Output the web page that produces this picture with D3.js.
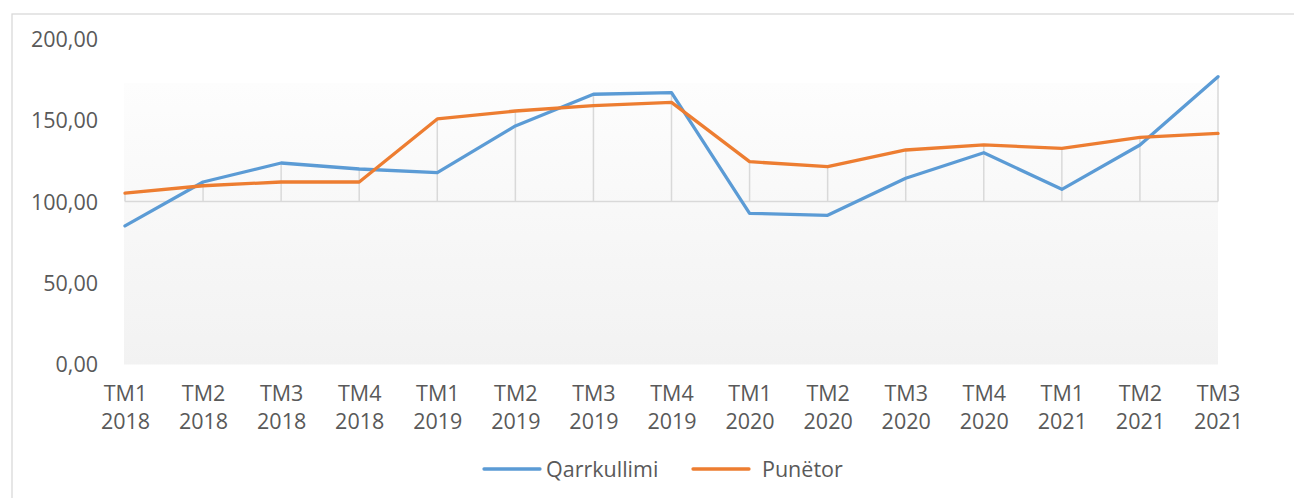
<!DOCTYPE html>
<html><head><meta charset="utf-8">
<script src="https://cdn.jsdelivr.net/npm/d3@7"></script>
<style>body{margin:0;background:#fff;} svg{display:block;}</style>
</head><body>
<svg id="c" width="1294" height="498"></svg>
<script>
const quarters = ["TM1","TM2","TM3","TM4","TM1","TM2","TM3","TM4","TM1","TM2","TM3","TM4","TM1","TM2","TM3"];
const years = ["2018","2018","2018","2018","2019","2019","2019","2019","2020","2020","2020","2020","2021","2021","2021"];
const qarrkullimi = [85.0,112.0,123.7,120.0,117.8,146.5,166.0,167.0,92.7,91.5,114.3,130.0,107.5,134.8,176.8];
const punetor = [105.2,109.7,112.0,112.0,150.8,155.7,159.0,161.0,124.5,121.4,131.7,134.8,132.7,139.5,141.9];
const yTicks = [0,50,100,150,200];
const seriesNames = ["Qarrkullimi","Punëtor"];
const colors = ["#5b9bd5","#ed7d31"];

const svg = d3.select("#c");
const font = "'Open Sans', sans-serif";
const fs = "21.5px";
const idx = d3.range(quarters.length);
const x = d3.scalePoint().domain(idx).range([125,1218]);
const y = d3.scaleLinear().domain([0,200]).range([364,39]);

// outer border
svg.append("rect").attr("x",12).attr("y",14).attr("width",1300).attr("height",500)
  .attr("fill","#fff").attr("stroke","#d9d9d9").attr("stroke-width",1.3);

// plot area gradient
const defs = svg.append("defs");
const g = defs.append("linearGradient").attr("id","bg").attr("x1",0).attr("y1",0).attr("x2",0).attr("y2",1);
g.append("stop").attr("offset","0%").attr("stop-color","#fdfdfd");
g.append("stop").attr("offset","100%").attr("stop-color","#f2f2f2");
svg.append("rect").attr("x",x(0)-1).attr("y",83).attr("width",x(14)-x(0)+1).attr("height",y(0)-83+0.5)
  .attr("fill","url(#bg)");

// drop lines from top point to 100
svg.append("g").selectAll("line").data(idx).join("line")
  .attr("x1",d=>x(d)).attr("x2",d=>x(d))
  .attr("y1",d=>y(Math.max(100,qarrkullimi[d],punetor[d])))
  .attr("y2",y(100))
  .attr("stroke","#d9d9d9").attr("stroke-width",1.5);

// axis line at 100
svg.append("line").attr("x1",x(0)).attr("x2",x(14)).attr("y1",y(100)).attr("y2",y(100))
  .attr("stroke","#d9d9d9").attr("stroke-width",1.5);

// y axis labels
const yAxis = d3.axisLeft(y).tickValues(yTicks).tickSize(0).tickPadding(0)
  .tickFormat(d=>d3.format(".2f")(d).replace(".",","));
const ya = svg.append("g").attr("transform","translate(98,0)").call(yAxis);
ya.select(".domain").remove();
ya.selectAll("text").attr("fill","#595959").style("font-family",font).style("font-size",fs).attr("dy","0.35em");

// x axis labels
const xAxis = d3.axisBottom(x).tickSize(0).tickFormat("");
const xa = svg.append("g").attr("transform",`translate(0,${y(0)})`).call(xAxis);
xa.select(".domain").remove();
xa.selectAll(".tick").each(function(d){
  const t = d3.select(this).append("text").attr("fill","#595959").attr("text-anchor","middle")
    .style("font-family",font).style("font-size",fs);
  t.append("tspan").attr("x",0).attr("y",37).text(quarters[d]);
  t.append("tspan").attr("x",0).attr("y",65).text(years[d]);
});

// lines
const line = d3.line().x((d,i)=>x(i)).y(d=>y(d));
[qarrkullimi,punetor].forEach((s,k)=>{
  svg.append("path").datum(s).attr("d",line).attr("fill","none")
    .attr("stroke",colors[k]).attr("stroke-width",3.3).attr("stroke-linejoin","round").attr("stroke-linecap","round");
});

// legend
const leg = [{x:484,tx:546},{x:693,tx:762}];
seriesNames.forEach((n,k)=>{
  svg.append("line").attr("x1",leg[k].x).attr("x2",leg[k].x+56).attr("y1",469).attr("y2",469)
    .attr("stroke",colors[k]).attr("stroke-width",3.3).attr("stroke-linecap","round");
  svg.append("text").attr("x",leg[k].tx).attr("y",469).attr("dy","0.35em").attr("fill","#595959")
    .style("font-family",font).style("font-size",fs).text(n);
});
</script>
</body></html>
